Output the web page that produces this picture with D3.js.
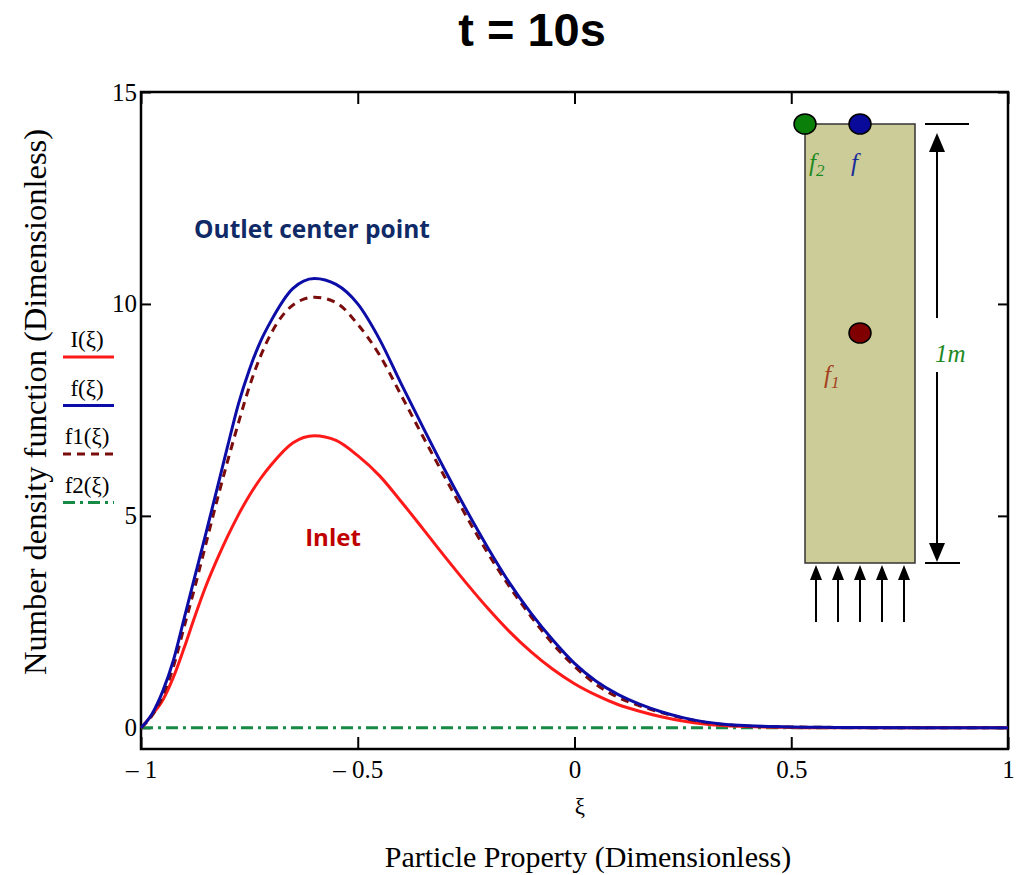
<!DOCTYPE html>
<html lang="en">
<head>
    <meta charset="UTF-8" />
    <title>t = 10s</title>
    <script src="https://d3js.org/d3.v7.min.js"></script>
    <style>
        body { margin: 0; background: #fff; }
        svg { display: block; }
    </style>
</head>
<body>
    <div id="container"></div>
    <script>
        // values
        const xi = [-1, -0.975, -0.95, -0.925, -0.9, -0.875, -0.85, -0.825, -0.8, -0.775, -0.75,
            -0.725, -0.7, -0.65, -0.6, -0.55, -0.5, -0.45, -0.4, -0.35, -0.3, -0.25, -0.2, -0.15, -0.1, -0.05,
            0, 0.05, 0.1, 0.15, 0.2, 0.25, 0.3, 0.35, 0.4, 0.5, 0.6, 0.8, 1]

        const inletValues = [0, 0.3, 0.65, 1.2, 1.9, 2.65, 3.35, 3.96, 4.52, 5.03, 5.48,
            5.87, 6.2, 6.72, 6.89, 6.78, 6.42, 5.95, 5.34, 4.7, 4.05, 3.42, 2.82, 2.27, 1.79, 1.38,
            1.04, 0.77, 0.55, 0.39, 0.26, 0.16, 0.09, 0.05, 0.03, 0.01, 0, 0, 0]

        const fValues = [0, 0.32, 0.86, 1.6, 2.6, 3.6, 4.6, 5.62, 6.65, 7.65, 8.45,
            9.1, 9.6, 10.36, 10.6, 10.46, 10.0, 9.17, 8.12, 7.1, 6.1, 5.15, 4.25, 3.42, 2.7, 2.07,
            1.52, 1.1, 0.79, 0.56, 0.38, 0.24, 0.14, 0.08, 0.05, 0.02, 0.01, 0, 0]

        const f1Values = [0, 0.28, 0.75, 1.45, 2.4, 3.35, 4.35, 5.35, 6.3, 7.2, 8.05,
            8.75, 9.3, 9.97, 10.16, 10.03, 9.52, 8.8, 7.85, 6.88, 5.93, 5.0, 4.12, 3.33, 2.62, 1.98,
            1.45, 1.02, 0.72, 0.52, 0.36, 0.23, 0.13, 0.07, 0.04, 0.02, 0.01, 0, 0]

        const f2Values = [0, 0, 0, 0, 0, 0, 0, 0, 0, 0, 0,
            0, 0, 0, 0, 0, 0, 0, 0, 0, 0, 0, 0, 0, 0, 0,
            0, 0, 0, 0, 0, 0, 0, 0, 0, 0, 0, 0, 0]

        const xTicks = [-1, -0.5, 0, 0.5, 1]
        const xTickLabels = ["\u2013 1", "\u2013 0.5", "0", "0.5", "1"]
        const yTicks = [0, 5, 10, 15]

        const width = 1022
        const height = 875
        const margin = { top: 92, right: 14, bottom: 126, left: 141 }

        const serif = "'Liberation Serif', 'DejaVu Serif', serif"

        const svg = d3.select("#container")
            .append("svg")
            .attr("width", width)
            .attr("height", height)

        const x = d3.scaleLinear()
            .domain([-1, 1])
            .range([margin.left, width - margin.right])

        const y = d3.scaleLinear()
            .domain([-0.5, 15])
            .range([height - margin.bottom, margin.top])

        // title
        svg.append("text")
            .attr("x", 532)
            .attr("y", 46)
            .attr("text-anchor", "middle")
            .style("font-family", "'Liberation Sans', Arial, sans-serif")
            .style("font-weight", "bold")
            .style("font-size", "47px")
            .text("t = 10s")

        // axes, ticks point inward
        const xAxis = g => g
            .attr("transform", `translate(0,${height - margin.bottom})`)
            .call(d3.axisBottom(x).tickValues(xTicks).tickSize(-12).tickPadding(11)
                .tickFormat((d, i) => xTickLabels[i]))
            .call(g => g.select(".domain").remove())
            .call(g => g.selectAll(".tick line").attr("stroke-width", 2))
            .call(g => g.selectAll(".tick text")
                .style("font-family", serif).style("font-size", "25px").attr("fill", "#000"))

        const xAxisTop = g => g
            .attr("transform", `translate(0,${margin.top})`)
            .call(d3.axisTop(x).tickValues(xTicks).tickSize(-12).tickFormat(""))
            .call(g => g.select(".domain").remove())
            .call(g => g.selectAll(".tick line").attr("stroke-width", 2))

        const yAxis = g => g
            .attr("transform", `translate(${margin.left},0)`)
            .call(d3.axisLeft(y).tickValues(yTicks).tickSize(-10).tickPadding(4))
            .call(g => g.select(".domain").remove())
            .call(g => g.selectAll(".tick line").attr("stroke-width", 2))
            .call(g => g.selectAll(".tick text")
                .style("font-family", serif).style("font-size", "25px").attr("fill", "#000"))

        const yAxisRight = g => g
            .attr("transform", `translate(${width - margin.right},0)`)
            .call(d3.axisRight(y).tickValues(yTicks).tickSize(-10).tickFormat(""))
            .call(g => g.select(".domain").remove())
            .call(g => g.selectAll(".tick line").attr("stroke-width", 2))

        svg.append("g").call(xAxis)
        svg.append("g").call(xAxisTop)
        svg.append("g").call(yAxis)
        svg.append("g").call(yAxisRight)

        svg.append("rect")
            .attr("x", margin.left)
            .attr("y", margin.top)
            .attr("width", width - margin.right - margin.left)
            .attr("height", height - margin.bottom - margin.top)
            .attr("fill", "none")
            .attr("stroke", "#000")
            .attr("stroke-width", 2.5)

        // axis labels
        svg.append("text")
            .attr("x", 580)
            .attr("y", 814)
            .attr("text-anchor", "middle")
            .style("font-family", serif)
            .style("font-size", "23px")
            .text("\u03be")

        svg.append("text")
            .attr("x", 588)
            .attr("y", 867)
            .attr("text-anchor", "middle")
            .style("font-family", serif)
            .style("font-size", "30px")
            .text("Particle Property (Dimensionless)")

        svg.append("text")
            .attr("transform", "translate(46,402)rotate(-90)")
            .attr("text-anchor", "middle")
            .style("font-family", serif)
            .style("font-size", "32.5px")
            .text("Number density function (Dimensionless)")

        // curves
        const series = [
            { key: "f2", label: "f2(\u03be)", values: f2Values, color: "#178a45", dash: "12,5,3,5" },
            { key: "I", label: "I(\u03be)", values: inletValues, color: "#ff1a1a", dash: null },
            { key: "f1", label: "f1(\u03be)", values: f1Values, color: "#7a0c0c", dash: "8,6" },
            { key: "f", label: "f(\u03be)", values: fValues, color: "#0c0ca6", dash: null }
        ]

        series.forEach(s => {
            const line = d3.line()
                .x((d, i) => x(xi[i]))
                .y(d => y(d))
                .curve(d3.curveMonotoneX)

            svg.append("path")
                .datum(s.values)
                .attr("class", "line")
                .attr("fill", "none")
                .attr("stroke", s.color)
                .attr("stroke-width", 3)
                .attr("stroke-dasharray", s.dash)
                .attr("d", line)
        })

        // legend
        const legendOrder = ["I", "f", "f1", "f2"]
        legendOrder.forEach((key, i) => {
            const s = series.find(d => d.key === key)
            const ly = 357 + i * 48.5
            svg.append("text")
                .attr("x", 87)
                .attr("y", ly - 10)
                .attr("text-anchor", "middle")
                .style("font-family", serif)
                .style("font-size", "23px")
                .text(s.label)
            svg.append("line")
                .attr("x1", 63)
                .attr("x2", 114)
                .attr("y1", ly)
                .attr("y2", ly)
                .attr("stroke", s.color)
                .attr("stroke-width", 3)
                .attr("stroke-dasharray", s.dash)
        })

        // annotations
        svg.append("text")
            .attr("x", 312)
            .attr("y", 238)
            .attr("text-anchor", "middle")
            .style("font-family", "'Open Sans', Lato, sans-serif")
            .style("font-weight", "bold")
            .style("font-size", "24.5px")
            .attr("fill", "#0f2a66")
            .text("Outlet center point")

        svg.append("text")
            .attr("x", 333)
            .attr("y", 546)
            .attr("text-anchor", "middle")
            .style("font-family", "'Open Sans', Lato, sans-serif")
            .style("font-weight", "bold")
            .style("font-size", "24px")
            .attr("fill", "#c00000")
            .text("Inlet")

        // column sketch
        const col = svg.append("g")
        const cx0 = 805, cx1 = 915, cy0 = 124, cy1 = 563

        col.append("rect")
            .attr("x", cx0).attr("y", cy0)
            .attr("width", cx1 - cx0).attr("height", cy1 - cy0)
            .attr("fill", "#cccc99")
            .attr("stroke", "#333")
            .attr("stroke-width", 1.5)

        const dots = [
            { cx: cx0, cy: cy0, fill: "#0a800a" },
            { cx: 860, cy: cy0, fill: "#0a0a9a" },
            { cx: 860, cy: 333, fill: "#800000" }
        ]
        col.selectAll("ellipse")
            .data(dots)
            .join("ellipse")
            .attr("cx", d => d.cx)
            .attr("cy", d => d.cy)
            .attr("rx", 11)
            .attr("ry", 10)
            .attr("fill", d => d.fill)
            .attr("stroke", "#000")
            .attr("stroke-width", 1.5)

        const italic = (tx, ty, main, sub, color) => {
            const t = col.append("text")
                .attr("x", tx).attr("y", ty)
                .attr("fill", color)
                .style("font-family", serif)
                .style("font-style", "italic")
                .style("font-size", "25px")
            t.append("tspan").text(main)
            if (sub) t.append("tspan").attr("dy", 5).style("font-size", "17px").text(sub)
        }
        italic(809, 171, "f", "2", "#1e8a1e")
        italic(851, 171, "f", null, "#1a2a9a")
        italic(824, 383, "f", "1", "#a4401c")
        italic(935, 362, "1m", null, "#1e8a1e")

        // dimension line
        const dx = 937
        col.append("line").attr("x1", 925).attr("x2", 969).attr("y1", cy0).attr("y2", cy0)
            .attr("stroke", "#000").attr("stroke-width", 2)
        col.append("line").attr("x1", 925).attr("x2", 960).attr("y1", cy1).attr("y2", cy1)
            .attr("stroke", "#000").attr("stroke-width", 2)
        col.append("line").attr("x1", dx).attr("x2", dx).attr("y1", 150).attr("y2", 318)
            .attr("stroke", "#000").attr("stroke-width", 2)
        col.append("line").attr("x1", dx).attr("x2", dx).attr("y1", 372).attr("y2", 545)
            .attr("stroke", "#000").attr("stroke-width", 2)
        col.append("path").attr("d", `M${dx},133 L${dx - 8},152 L${dx + 8},152 Z`).attr("fill", "#000")
        col.append("path").attr("d", `M${dx},562 L${dx - 8},543 L${dx + 8},543 Z`).attr("fill", "#000")

        // inflow arrows
        const inflowX = [816, 838, 860, 882, 904]
        inflowX.forEach(ax => {
            col.append("line").attr("x1", ax).attr("x2", ax).attr("y1", 578).attr("y2", 622)
                .attr("stroke", "#000").attr("stroke-width", 2)
            col.append("path").attr("d", `M${ax},565 L${ax - 6},580 L${ax + 6},580 Z`).attr("fill", "#000")
        })
    </script>
</body>
</html>
